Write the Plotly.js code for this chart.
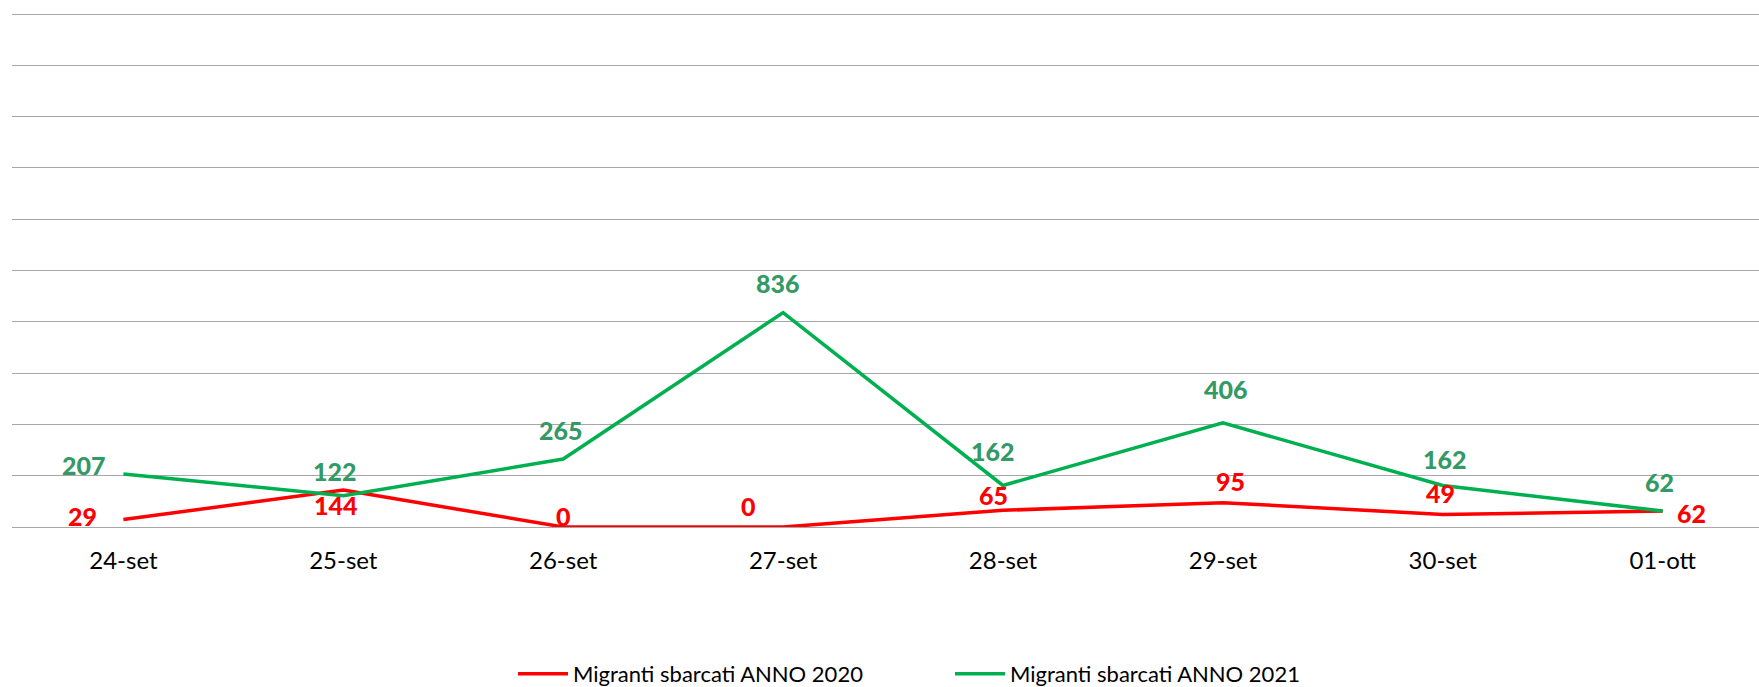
<!DOCTYPE html>
<html>
<head>
<meta charset="utf-8">
<script src="https://cdn.plot.ly/plotly-3.0.1.min.js"></script>
<style>html,body{margin:0;padding:0;background:#fff}#chart{width:1759px;height:687px}</style>
</head>
<body>
<div id="chart"></div>
<script>
// ---- data ----
var categories = ["24-set","25-set","26-set","27-set","28-set","29-set","30-set","01-ott"];
var series2020 = [29, 144, 0, 0, 65, 95, 49, 62];
var series2021 = [207, 122, 265, 836, 162, 406, 162, 62];
var name2020 = "Migranti sbarcati ANNO 2020";
var name2021 = "Migranti sbarcati ANNO 2021";

// ---- label offsets (px, relative to each point) ----
var off2020 = [[-41,-4],[-7,15],[0,-11],[-35,-21],[-9,-15],[8,-22],[-2,-21],[29,2]];
var off2021 = [[-39,-9],[-8,-25],[-2,-29],[-5,-30],[-10,-34],[3,-34],[2,-26],[-3,-29]];

var RED = "#FF0000", GREEN = "#00B050", GREEN_LBL = "#339966";
var FONT = "Lato, 'Open Sans', sans-serif";

var traces = [
  {x: categories, y: series2020, name: name2020, type: "scatter", mode: "lines",
   line: {color: RED, width: 3.5}, cliponaxis: false, hoverinfo: "x+y"},
  {x: categories, y: series2021, name: name2021, type: "scatter", mode: "lines",
   line: {color: GREEN, width: 3.5}, cliponaxis: false, hoverinfo: "x+y"}
];

var annotations = [];
function addLabels(vals, offs, color) {
  vals.forEach(function (v, i) {
    annotations.push({
      x: categories[i], y: v, xref: "x", yref: "y", text: String(v),
      showarrow: false, xanchor: "center", yanchor: "middle",
      xshift: offs[i][0], yshift: -offs[i][1],
      font: {family: FONT, size: 25, color: color, weight: 900}
    });
  });
}
addLabels(series2020, off2020, RED);
addLabels(series2021, off2021, GREEN_LBL);

var layout = {
  width: 1759, height: 687,
  margin: {l: 12, r: 0, t: 3, b: 160, pad: 0},
  paper_bgcolor: "#fff", plot_bgcolor: "#fff",
  font: {family: FONT, color: "#000"},
  showlegend: true,
  legend: {orientation: "h", xref: "container", yref: "container",
           x: 513 / 1759, xanchor: "left", y: (687 - 674) / 687, yanchor: "middle",
           font: {family: FONT, size: 22, color: "#000"}, itemwidth: 50, entrywidth: 372,
           bgcolor: "rgba(0,0,0,0)"},
  xaxis: {type: "category", range: [-0.5066, 7.438], showgrid: false, zeroline: false,
          showline: false, ticks: "", ticklabelstandoff: 17,
          tickfont: {family: FONT, size: 24, color: "#000"}, fixedrange: true},
  yaxis: {range: [0, 2043], dtick: 200, showticklabels: false, showgrid: true,
          gridcolor: "#A6A6A6", gridwidth: 1, zeroline: true, zerolinecolor: "#A6A6A6",
          zerolinewidth: 1, showline: false, ticks: "", fixedrange: true},
  annotations: annotations
};

Plotly.newPlot("chart", traces, layout, {displayModeBar: false, staticPlot: true});
</script>
</body>
</html>
